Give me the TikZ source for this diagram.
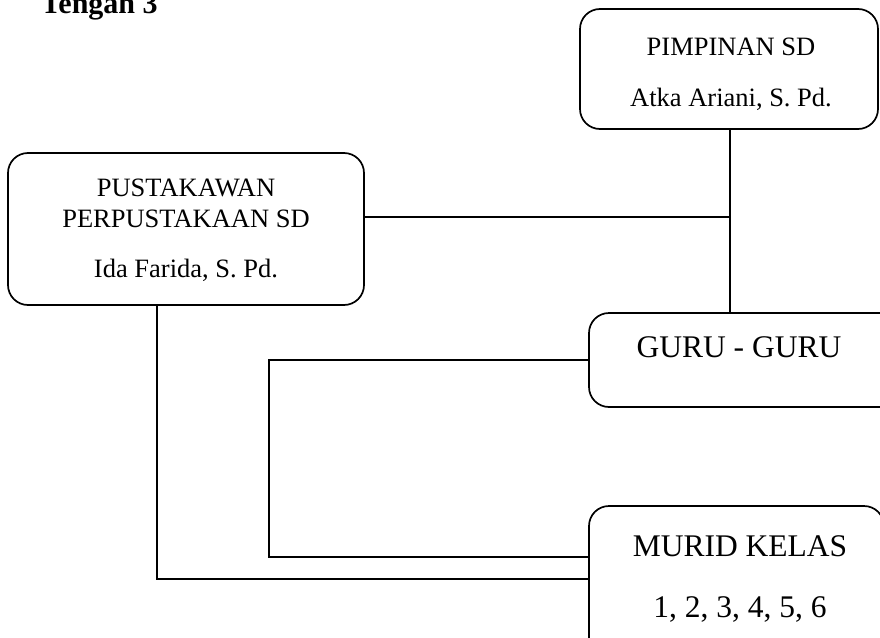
\documentclass[tikz,border=0pt]{standalone}
\usepackage{fontspec}
\setmainfont{Liberation Serif}
\begin{document}
\begin{tikzpicture}[x=1pt,y=-1pt,
  box/.style={draw, line width=1.7pt, rounded corners=20pt, inner sep=0pt},
  wire/.style={line width=1.7pt},
  txt/.style={anchor=base, inner sep=0pt, font=\fontsize{26.5}{31}\selectfont},
  bigtxt/.style={anchor=base, inner sep=0pt, font=\fontsize{31.5}{36}\selectfont}]
\useasboundingbox (0,0) rectangle (880,637);
\clip (0,0) rectangle (880,637);

% heading, partly above the page edge
\node[anchor=base west, inner sep=0pt, font=\bfseries\fontsize{30}{34}\selectfont] (head) at (41,13) {Tengah 3};

% boxes
\node[box, minimum width=298pt, minimum height=120pt] (pim) at (729,69) {};
\node[box, minimum width=356pt, minimum height=152pt] (pus) at (186,229) {};
\node[box, minimum width=331pt, minimum height=94pt] (guru) at (754.5,360) {};
\node[box, minimum width=295pt, minimum height=174pt] (murid) at (736.5,593) {};

% box texts
\node[txt] (pimA) at (731,55) {PIMPINAN SD};
\node[txt] (pimB) at (731,106) {Atka Ariani, S. Pd.};
\node[txt] (pusA) at (186,196) {PUSTAKAWAN};
\node[txt] (pusB) at (186,227) {PERPUSTAKAAN SD};
\node[txt] (pusC) at (186,277) {Ida Farida, S. Pd.};
\node[bigtxt] (guruA) at (739,357) {GURU - GURU};
\node[bigtxt] (muridA) at (740,556) {MURID KELAS};
\node[bigtxt] (muridB) at (740,617) {1, 2, 3, 4, 5, 6};

% junction points of the connectors
\coordinate (j) at (730,217);
\coordinate (gL) at (269,360);
\coordinate (gM) at (269,557);
\coordinate (pL) at (157,305);
\coordinate (pM) at (157,579);

% connectors
\draw[wire] (pim.south -| j) -- (guru.north -| j);
\draw[wire] (pus.east |- j) -- (j);
\draw[wire] (guru.west) -- (gL) -- (gM) -- (murid.west |- gM);
\draw[wire] (pL) -- (pM) -- (murid.west |- pM);
\end{tikzpicture}
\end{document}
